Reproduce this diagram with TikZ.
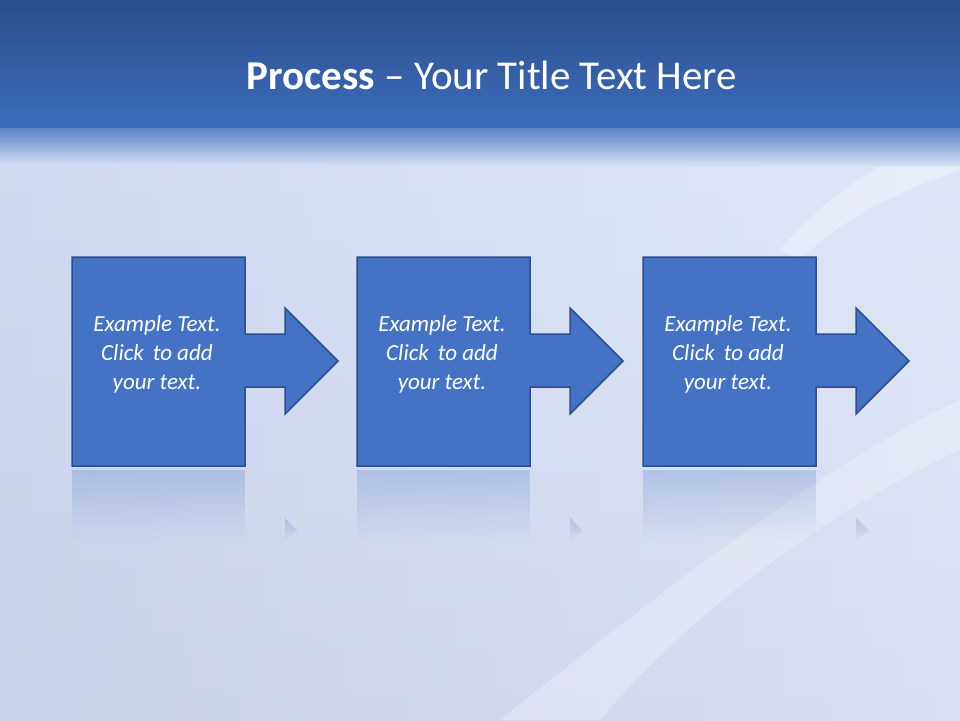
\documentclass[tikz,border=0pt]{standalone}
\usepackage{fontspec}
\setmainfont{Carlito}
\usetikzlibrary{fadings}
\definecolor{topA}{HTML}{2B4E8C}
\definecolor{topB}{HTML}{3D6CBA}
\definecolor{bgA}{HTML}{D3DEF5}
\definecolor{bgB}{HTML}{C9D1EA}
\definecolor{shp}{HTML}{4472C4}
\definecolor{shpedge}{HTML}{2C4F8F}
\tikzset{
 stepshape/.style={fill=shp, draw=shpedge, line width=1.5pt, line join=miter},
 refl/.style={fill=shp, path fading=south, opacity=0.25},
 lbl/.style={text=white, font=\fontsize{23pt}{29pt}\selectfont\itshape, align=center},
}
\newcommand{\stepat}[2]{%
 \path[stepshape] (#1,257) -- (#1+173,257) -- (#1+173,334) -- (#1+213,334) -- (#1+213,308)
  -- (#1+266,361) -- (#1+213,414) -- (#1+213,387) -- (#1+173,387) -- (#1+173,466) -- (#1,466) -- cycle;
 \path[refl] (#1,470) rectangle (#1+173,540);
 \path[refl] (#1+213,518) -- (#1+226,531) -- (#1+213,540) -- cycle;
 \node[lbl] (#2) at (#1+85,354) {Example Text.\\Click\, to add\\your text.};
}
\begin{document}
\begin{tikzpicture}[x=1pt,y=-1pt]
\useasboundingbox (0,0) rectangle (960,720);
\shade[top color=bgA, bottom color=bgB] (0,128) rectangle (960,720);
\shade[left color=bgB, right color=white, opacity=0.3] (0,128) rectangle (960,720);
\fill[white, opacity=0.25] (500,720) .. controls (700,560) and (850,450) .. (960,400) -- (960,450) .. controls (850,500) and (700,600) .. (600,720) -- cycle;
\fill[white, opacity=0.3] (780,250) .. controls (840,180) and (900,150) .. (960,140) -- (960,170) .. controls (900,190) and (840,220) .. (800,260) -- cycle;
\shade[top color=topA, bottom color=topB] (0,0) rectangle (960,128);
\shade[top color=topB!80!bgA, bottom color=bgA] (0,128) rectangle (960,165);
\node[text=white, font=\fontsize{41pt}{46pt}\selectfont] (title) at (492,75) {\textbf{Process} -- Your Title Text Here};
\stepat{72}{s1}
\stepat{357}{s2}
\stepat{643}{s3}
\end{tikzpicture}
\end{document}
